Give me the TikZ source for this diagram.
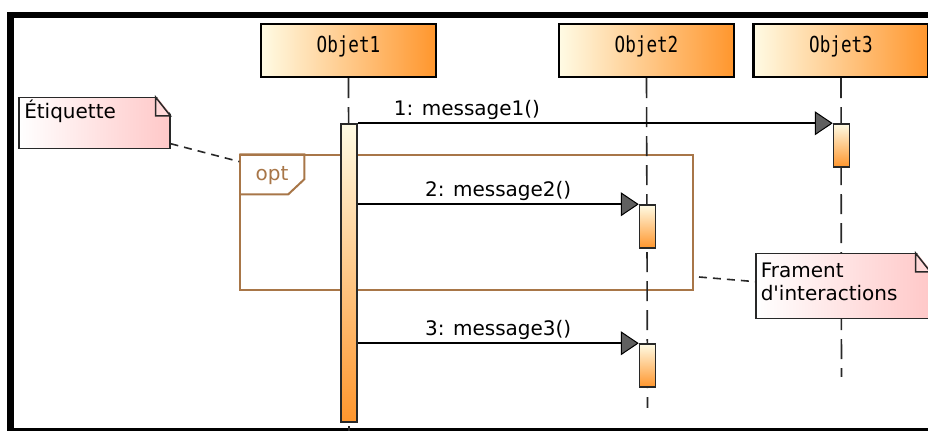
\documentclass[tikz,border=0pt]{standalone}
\usepackage{fontspec}
\setmainfont{DejaVu Sans}
\newfontfamily\objfont[FakeStretch=0.8]{DejaVu Sans Mono}
\usetikzlibrary{arrows.meta, positioning, calc}
\definecolor{optc}{RGB}{168,118,72}
\definecolor{objl}{RGB}{255,251,228}
\definecolor{objr}{RGB}{255,150,45}
\definecolor{notec}{RGB}{255,200,200}
\definecolor{linec}{RGB}{40,40,40}

\tikzset{
  objbox/.style={draw=black, line width=1.1pt, left color=objl, right color=objr,
    minimum width=87.5pt, inner xsep=0pt, inner ysep=0pt,
    text height=14.5pt, text depth=12pt, font=\objfont\fontsize{11}{13}\selectfont},
  actbar/.style={draw=linec, line width=0.75pt, top color=objl, bottom color=objr,
    minimum width=8pt, inner sep=0pt},
  lifeline/.style={draw=linec, line width=0.8pt, dash pattern=on 10pt off 4.5pt},
  msg/.style={draw=black, line width=0.85pt,
    -{Triangle[length=9pt,width=12pt,fill=gray!75!black,line width=0.5pt]}},
  msglbl/.style={anchor=base, yshift=4pt, inner sep=0pt},
  notebox/.style={draw=linec, line width=0.75pt, left color=white, right color=notec,
    anchor=north west, align=left, inner xsep=2pt, inner ysep=0pt},
  notelink/.style={draw=linec, line width=0.8pt, dash pattern=on 4pt off 3pt},
  optframe/.style={draw=optc, line width=0.7pt, inner sep=0pt},
}

\begin{document}
\begin{tikzpicture}[x=0.5pt, y=-0.5pt, font=\fontsize{10}{11.5}\selectfont]
  \useasboundingbox (0,0) rectangle (928,431);
  \clip (0,0) rectangle (928,431);
  % outer frame
  \draw[line width=3.3pt] (10.5,15) rectangle (945,431);

  % combined fragment
  \node[optframe, minimum width=226.5pt, minimum height=67.5pt] (opt) at (466.5,222.5) {};
  \draw[optc, line width=1pt] (opt.north west) -- ++(65,0) -- ++(0,25) -- ++(-16,15) -- ++(-49,0);
  \node[anchor=base, text=optc, inner sep=0pt] (optlbl) at (272,181) {opt};

  % objects
  \node[objbox] (o1) at (348.5,50.5) {Objet1};
  \node[objbox] (o2) at (646.5,50.5) {Objet2};
  \node[objbox] (o3) at (841,50.5) {Objet3};

  % lifelines
  \coordinate (end1) at (349,432);
  \coordinate (end2) at (647.5,408);
  \coordinate (end3) at (841.5,377);
  \draw[lifeline] (o1.south) -- (end1);
  \draw[lifeline] (o2.south) -- (end2);
  \draw[lifeline] (o3.south) -- (end3);

  % activations
  \node[actbar, minimum height=149pt] (a1) at (349,273) {};
  \node[actbar, minimum height=21.5pt] (a3) at (841.5,145.5) {};
  \node[actbar, minimum height=21.5pt] (a2a) at (647.5,226.5) {};
  \node[actbar, minimum height=21.5pt] (a2b) at (647.5,365.5) {};

  % messages
  \draw[msg] (a1.north east) -- node[msglbl, pos=0.23] {1: message1()} (a3.north west);
  \draw[msg] (a1.east |- a2a.north) -- node[msglbl, pos=0.5] {2: message2()} (a2a.north west);
  \draw[msg] (a1.east |- a2b.north) -- node[msglbl, pos=0.5] {3: message3()} (a2b.north west);

  % notes
  \node[notebox, minimum width=75.5pt, text width=70pt, text height=10.5pt, text depth=15pt] (etiq) at (18,97) {Étiquette};
  \node[notebox, minimum width=87pt, text width=82pt, inner xsep=2.5pt, text height=11.85pt, text depth=20.65pt] (fram) at (755,253) {Frament\\d\textquotesingle interactions};
  \foreach \n in {etiq, fram} {
    \fill[white] ($(\n.north east)+(-15,-2)$) -- ($(\n.north east)+(2,-2)$) -- ($(\n.north east)+(2,19)$) -- cycle;
    \draw[linec, line width=0.75pt, fill=notec!70] ($(\n.north east)+(-15,0)$) -- ($(\n.north east)+(-15,19)$) -- ($(\n.north east)+(0,19)$) -- cycle;
  }

  % note links
  \coordinate (lnk) at (699,277);
  \draw[notelink] (etiq.-15) -- (opt.165);
  \draw[notelink] (lnk) -- (fram.177);
\end{tikzpicture}
\end{document}
